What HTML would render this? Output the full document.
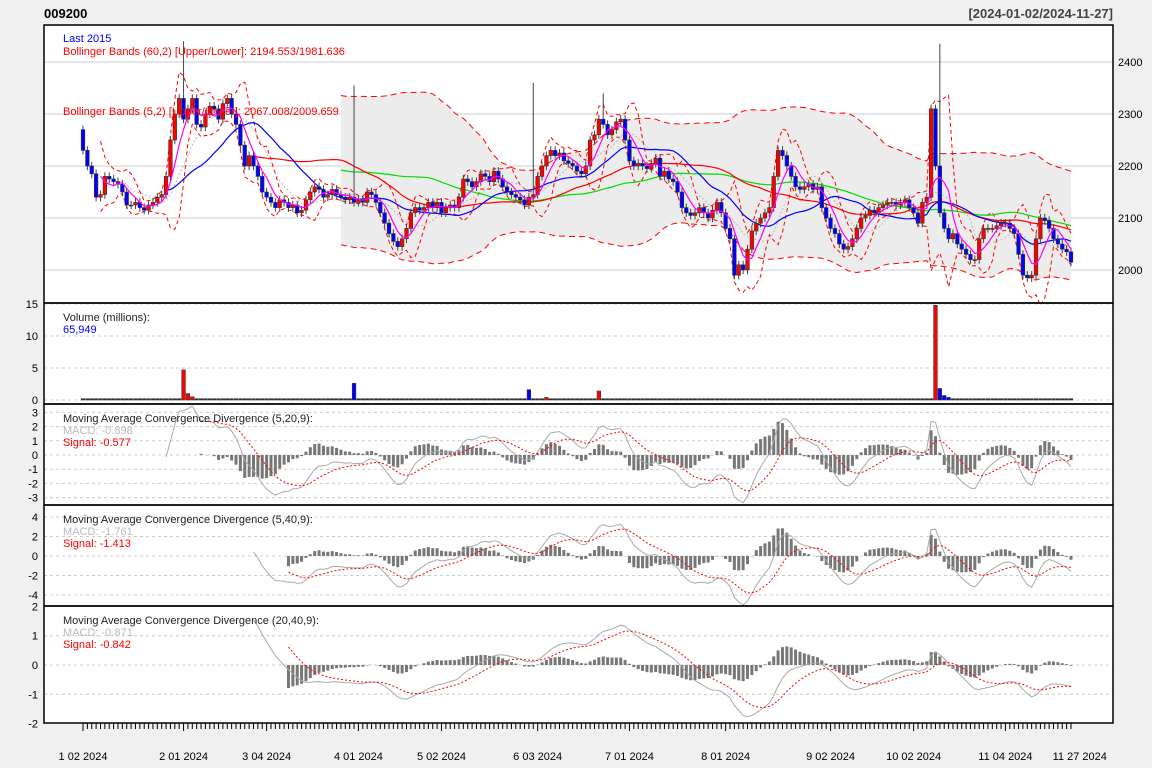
<!DOCTYPE html>
<html><head><meta charset="utf-8"><style>
html,body{margin:0;padding:0;background:#f0f0f0;}
svg{display:block;font-family:"Liberation Sans",sans-serif;}
</style></head><body>
<svg id="c" width="1152" height="768"></svg>
<script>
const closes=[2230,2200,2185,2140,2145,2180,2175,2170,2165,2150,2125,2125,2130,2120,2115,2125,2130,2140,2145,2180,2250,2300,2330,2290,2310,2330,2280,2275,2300,2315,2310,2290,2320,2330,2300,2280,2240,2200,2220,2200,2180,2150,2140,2130,2120,2135,2130,2120,2125,2110,2115,2135,2150,2160,2155,2140,2145,2155,2145,2140,2135,2140,2130,2135,2130,2150,2145,2130,2110,2090,2070,2055,2045,2060,2080,2110,2120,2115,2120,2130,2120,2130,2110,2120,2125,2120,2140,2175,2170,2160,2170,2185,2180,2170,2190,2175,2160,2150,2145,2140,2135,2125,2140,2145,2180,2200,2220,2230,2220,2225,2210,2205,2200,2190,2185,2200,2250,2260,2290,2280,2260,2270,2285,2290,2250,2210,2200,2205,2200,2195,2205,2215,2180,2190,2175,2170,2150,2120,2110,2105,2110,2120,2110,2100,2115,2130,2110,2080,2060,1990,2010,2000,2040,2075,2090,2100,2110,2120,2180,2230,2220,2200,2180,2160,2155,2160,2165,2155,2160,2120,2100,2080,2070,2050,2040,2045,2060,2080,2100,2105,2115,2110,2120,2125,2130,2130,2125,2130,2135,2120,2110,2090,2130,2140,2310,2200,2110,2080,2060,2070,2050,2040,2030,2020,2020,2060,2080,2080,2080,2085,2090,2090,2080,2070,2030,1990,1985,1990,2060,2100,2095,2080,2060,2050,2040,2035,2015];
const firstOpen=2270;
const bigHighIdx=[23,62,103,119,196];
const bigHighVal=[2440,2355,2360,2340,2435];
const volIdx=[23,24,25,62,102,106,118,195,196,197,198];
const volVal=[4.7,1.0,0.5,2.6,1.6,0.4,1.4,14.8,1.8,0.7,0.4];
const volUp=[1,1,1,0,0,1,1,1,0,0,0];
const volBase=0.2;
const xLabels=["1 02 2024","2 01 2024","3 04 2024","4 01 2024","5 02 2024","6 03 2024","7 01 2024","8 01 2024","9 02 2024","10 02 2024","11 04 2024","11 27 2024"];
const xLabelIdx=[0,23,42,63,82,104,125,147,171,190,211,228];
const priceTicks=[2000,2100,2200,2300,2400];

const N=closes.length, svg=document.getElementById('c'), NS='http://www.w3.org/2000/svg';
const L=44,R=1113,X0=83,X1=1071,dx=(X1-X0)/(N-1);
const xi=i=>X0+i*dx;
function el(t,a,p){const e=document.createElementNS(NS,t);for(const k in a)e.setAttribute(k,a[k]);(p||svg).appendChild(e);return e;}
function txt(s,x,y,a){const e=el('text',Object.assign({x:x,y:y,'font-size':11},a));e.textContent=s;return e;}
const opens=closes.map((c,i)=>i?closes[i-1]:firstOpen);
const vols=closes.map(()=>volBase);volIdx.forEach((k,j)=>vols[k]=volVal[j]);
const volCol=closes.map(()=>'#333');volIdx.forEach((k,j)=>volCol[k]=volUp[j]?'#f00':'#00f');
function sma(a,n){return a.map((v,i)=>{if(i<n-1)return null;let s=0;for(let j=i-n+1;j<=i;j++)s+=a[j];return s/n;});}
function sd(a,n){const m=sma(a,n);return a.map((v,i)=>{if(m[i]==null)return null;let s=0;for(let j=i-n+1;j<=i;j++)s+=(a[j]-m[i])**2;return Math.sqrt(s/n);});}
function ema(a,n){const r=[];const k=2/(n+1);let prev=null,cnt=0,sum=0;for(let i=0;i<a.length;i++){const v=a[i];if(v==null){r.push(null);continue;}if(prev==null){sum+=v;cnt++;if(cnt==n){prev=sum/n;r.push(prev);}else r.push(null);}else{prev=prev+k*(v-prev);r.push(prev);}}return r;}
function line(vals,f,attrs,name){let d='';vals.forEach((v,i)=>{if(v==null)return;d+=(d?'L':'M')+xi(i).toFixed(1)+','+f(v).toFixed(1);});const p=el('path',Object.assign({d:d,fill:'none'},attrs));return p;}

const panels=[[25,303],[303,404],[404,505],[505,606],[606,723]];
el('rect',{x:L,y:25,width:R-L,height:698,fill:'#fff'});
const py=p=>270-(p-2000)*0.52;
const cp=el('clipPath',{id:'mc'});el('rect',{x:L,y:25,width:R-L,height:278},cp);
const g=el('g',{'clip-path':'url(#mc)'});
priceTicks.forEach(t=>{el('line',{x1:L,x2:R,y1:py(t),y2:py(t),stroke:'#ccc'},g);const tl=txt(t,1118,py(t)+4,{'font-size':11});});
const m60=sma(closes,60),s60=sd(closes,60);
const up60=m60.map((m,i)=>m==null?null:m+2*s60[i]),lo60=m60.map((m,i)=>m==null?null:m-2*s60[i]);
let dA='';up60.forEach((v,i)=>{if(v!=null)dA+=(dA?'L':'M')+xi(i)+','+py(v);});
for(let i=N-1;i>=0;i--)if(lo60[i]!=null)dA+='L'+xi(i)+','+py(lo60[i]);
const sh=el('path',{d:dA+'Z',fill:'#ececec'},g);
g.appendChild(line(up60,py,{stroke:'#f00','stroke-dasharray':'6,4'},'bb60-upper'));
g.appendChild(line(lo60,py,{stroke:'#f00','stroke-dasharray':'6,4'},'bb60-lower'));
const m5=sma(closes,5),s5=sd(closes,5);
g.appendChild(line(m5.map((m,i)=>m==null?null:m+2*s5[i]),py,{stroke:'#f00','stroke-dasharray':'4,3'},'bb5-upper'));
g.appendChild(line(m5.map((m,i)=>m==null?null:m-2*s5[i]),py,{stroke:'#f00','stroke-dasharray':'4,3'},'bb5-lower'));
g.appendChild(line(sma(closes,10),py,{stroke:'#bbb','stroke-dasharray':'2,2'},'sma10'));
g.appendChild(line(sma(closes,60),py,{stroke:'#0d0','stroke-width':1.2},'sma60'));
g.appendChild(line(sma(closes,40),py,{stroke:'#f00','stroke-width':1.2},'sma40'));
g.appendChild(line(sma(closes,20),py,{stroke:'#00f','stroke-width':1.2},'sma20'));
closes.forEach((c,i)=>{const o=opens[i];const x=xi(i);let hi=Math.max(o,c)+8,lo=Math.min(o,c)-8;const bi=bigHighIdx.indexOf(i);if(bi>=0)hi=bigHighVal[bi];
const w=el('line',{x1:x,x2:x,y1:py(hi),y2:py(lo),stroke:'#444'},g);
const t=py(Math.max(o,c)),b=py(Math.min(o,c));const r=el('rect',{x:x-1.8,y:t,width:3.6,height:Math.max(1,b-t),fill:c>=o?'#f00':'#00f',stroke:'#333','stroke-width':0.6},g);});
g.appendChild(line(m5,py,{stroke:'#f0f','stroke-width':1.2},'sma5'));
const vy=v=>400-v*6.4;
[0,5,10,15].forEach(t=>{el('line',{x1:L,x2:R,y1:vy(t),y2:vy(t),stroke:'#ccc','stroke-dasharray':'3,3'});txt(t,38,vy(t)+4,{'text-anchor':'end'});});
vols.forEach((v,i)=>{const r=el('rect',{x:xi(i)-1.8,y:vy(v),width:3.6,height:Math.max(1,400-vy(v)),fill:volCol[i],stroke:'#333','stroke-width':0.6});});
function macdPanel(f,s,sig,top,bot,zero,scale,ticks,name){
 const yy=v=>zero-v*scale;
 ticks.forEach(t=>{const yv=yy(t);if(yv>top+1&&yv<bot-1)el('line',{x1:L,x2:R,y1:yv,y2:yv,stroke:'#ccc','stroke-dasharray':'3,3'});txt(t,38,yv+4,{'text-anchor':'end'});});
 const ef=ema(closes,f),es=ema(closes,s);const m=closes.map((c,i)=>ef[i]==null||es[i]==null?null:100*(ef[i]/es[i]-1));const sg=ema(m,sig);
 const gg=el('g',{});
 m.forEach((v,i)=>{if(v==null||sg[i]==null)return;const h=v-sg[i];const r=el('rect',{x:xi(i)-1.5,y:Math.min(yy(0),yy(h)),width:3,height:Math.abs(yy(h)-yy(0)),fill:'#777'},gg);});
 gg.appendChild(line(m,yy,{stroke:'#aaa'},'macd-line'));
 gg.appendChild(line(sg,yy,{stroke:'#f00','stroke-dasharray':'2,2'},'signal-line'));
}
macdPanel(5,20,9,404,505,455,14.2,[3,2,1,0,-1,-2,-3],'macd-5-20-9');
macdPanel(5,40,9,505,606,556,9.75,[4,2,0,-2,-4],'macd-5-40-9');
macdPanel(20,40,9,606,723,665,29.3,[2,1,0,-1,-2],'macd-20-40-9');
panels.forEach(p=>{const b=el('rect',{x:L,y:p[0],width:R-L,height:p[1]-p[0],fill:'none',stroke:'#000','stroke-width':1.5});});
closes.forEach((c,i)=>{const big=xLabelIdx.indexOf(i)>=0;el('line',{x1:xi(i),x2:xi(i),y1:723,y2:big?731:729,stroke:'#000'});});
xLabels.forEach((s,j)=>{const t=txt(s,xi(xLabelIdx[j]),760,{'text-anchor':'middle'});});
txt('009200',44,18,{'font-size':13,'font-weight':'bold'});
txt('[2024-01-02/2024-11-27]',1113,18,{'font-size':13,'font-weight':'bold','text-anchor':'end',fill:'#444'});
txt('Last '+closes[N-1],63,42,{fill:'#00f'});
txt('Bollinger Bands (60,2) [Upper/Lower]: 2194.553/1981.636',63,55,{fill:'#f00'});
txt('Bollinger Bands (5,2) [Upper/Lower]: 2067.008/2009.659',63,115,{fill:'#f00'});
txt('Volume (millions):',63,321,{fill:'#222'});
txt('65,949',63,333,{fill:'#00f'});
[[404,'(5,20,9)','-0.898','-0.577'],[505,'(5,40,9)','-1.761','-1.413'],[606,'(20,40,9)','-0.871','-0.842']].forEach(a=>{
 txt('Moving Average Convergence Divergence '+a[1]+':',63,a[0]+18,{fill:'#222'});
 txt('MACD: '+a[2],63,a[0]+30,{fill:'#bbb'});
 txt('Signal: '+a[3],63,a[0]+42,{fill:'#f00'});
});
</script>
</body></html>
